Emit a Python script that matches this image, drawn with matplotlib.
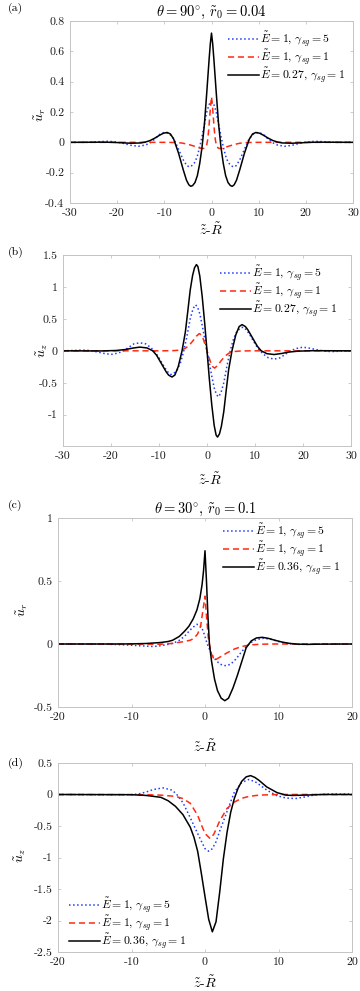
import matplotlib
matplotlib.use('Agg')
import matplotlib.pyplot as plt

plt.rcParams['font.family'] = 'serif'
plt.rcParams['font.serif'] = ['cmr10', 'DejaVu Serif']
plt.rcParams['mathtext.fontset'] = 'cm'
plt.rcParams['axes.unicode_minus'] = False
plt.rcParams['axes.formatter.use_mathtext'] = True

# ---------------- datos panel (a): u_r, theta = 90 ----------------
xa_neg = [-30, -23, -21, -19, -17, -15, -14, -13, -12, -11, -10.2, -9.4, -8.7, -8, -7, -6,
          -5.3, -4.8, -4.4, -4, -3.5, -3, -2.5, -2, -1.5, -1, -0.75, -0.5, -0.25]
xa = xa_neg + [0] + [-v for v in reversed(xa_neg)]

ua_black = [0, 0.001, 0.0, -0.003, -0.006, -0.004, 0.002, 0.012, 0.028, 0.047, 0.06, 0.065, 0.055,
            0.02, -0.07, -0.18, -0.25, -0.28, -0.29, -0.285, -0.265, -0.22, -0.14, -0.03, 0.12, 0.33,
            0.44, 0.55, 0.65,
            0.72,
            0.65, 0.55, 0.44, 0.33, 0.12, -0.03, -0.14, -0.22, -0.265, -0.285, -0.29, -0.28, -0.25,
            -0.18, -0.07, 0.02, 0.055, 0.065, 0.06, 0.047, 0.028, 0.012, 0.002, -0.004, -0.006,
            -0.003, 0.0, 0.001, 0]

xa_b = [-30, -26, -24, -22, -20, -18.5, -17, -15.5, -14, -13, -12, -11, -10, -9, -8, -7, -6,
        -5.2, -4.6, -4, -3.5, -3, -2.5, -2, -1.5, -1, -0.5, 0,
        0.5, 1, 1.5, 2, 2.5, 3, 3.5, 4, 4.6, 5.2, 6, 7, 8, 9, 10, 11, 12, 13, 14, 15.5, 17,
        18.5, 20, 22, 24, 26, 30]
ua_blue = [0, 0.0, 0.004, 0.007, 0.002, -0.008, -0.02, -0.026, -0.018, -0.003, 0.022, 0.052,
           0.066, 0.058, 0.025, -0.045, -0.115, -0.155, -0.162, -0.15, -0.13, -0.09, -0.03,
           0.04, 0.12, 0.2, 0.25, 0.27,
           0.25, 0.2, 0.12, 0.04, -0.03, -0.09, -0.13, -0.15, -0.162, -0.155, -0.115, -0.045,
           0.025, 0.058, 0.066, 0.052, 0.022, -0.003, -0.018, -0.026, -0.02, -0.008, 0.002,
           0.007, 0.004, 0.0, 0]

xa_r = [-30, -10, -8, -7, -6, -5, -4, -3, -2, -1.4, -1.0, -0.8, -0.6, -0.4, -0.2, 0,
        0.2, 0.4, 0.6, 0.8, 1.0, 1.4, 2, 3, 4, 5, 6, 7, 8, 10, 30]
ua_red = [0, 0, -0.001, -0.002, -0.006, -0.013, -0.022, -0.032, -0.042, -0.038, -0.015, 0.02,
          0.08, 0.16, 0.24, 0.30,
          0.24, 0.16, 0.08, 0.02, -0.015, -0.038, -0.042, -0.032, -0.022, -0.013, -0.006,
          -0.002, -0.001, 0, 0]

# ---------------- datos panel (b): u_z, theta = 90 ----------------
xb_k = [-30, -22, -19, -17, -15.5, -14, -12.5, -11.3, -10.5, -9.5, -8.5, -8, -7.3, -6.7, -6,
        -5.2, -4.5, -4, -3.5, -3, -2.6, -2.2, -1.9, -1.5, -1, -0.5, 0,
        0.5, 1, 1.5, 1.9, 2.2, 2.6, 3, 3.5, 4, 4.5, 5.2, 6, 6.7, 7.3, 8, 8.5, 9.5, 10.5, 11.3,
        12.5, 14, 15.5, 17, 19, 22, 30]
ub_black = [0, -0.002, 0.005, 0.02, 0.042, 0.058, 0.045, 0.0, -0.07, -0.2, -0.33, -0.38, -0.41,
            -0.38, -0.25, 0.0, 0.3, 0.62, 0.95, 1.18, 1.3, 1.35, 1.32, 1.17, 0.85, 0.45, 0,
            -0.45, -0.85, -1.17, -1.32, -1.35, -1.3, -1.18, -0.95, -0.62, -0.3, 0.0, 0.25, 0.38,
            0.41, 0.38, 0.33, 0.2, 0.07, 0.0, -0.045, -0.058, -0.042, -0.02, -0.005, 0.002, 0]

xb_b = [-30, -28, -26, -24.5, -23, -21.5, -20, -18.5, -17.2, -16.2, -15.2, -14, -12.8, -11.7,
        -10.8, -10, -9, -8.3, -7.6, -7, -6.2, -5.5, -4.9, -4.2, -3.5, -2.9, -2.4, -2, -1.5,
        -1, -0.5, 0,
        0.5, 1, 1.5, 2, 2.4, 2.9, 3.5, 4.2, 4.9, 5.5, 6.2, 7, 7.6, 8.3, 9, 10, 10.8, 11.7, 12.8,
        14, 15.2, 16.2, 17.2, 18.5, 20, 21.5, 23, 24.5, 26, 28, 30]
ub_blue = [0, 0.005, 0.012, 0.005, -0.015, -0.04, -0.057, -0.035, 0.01, 0.06, 0.11, 0.125,
           0.11, 0.05, -0.02, -0.11, -0.24, -0.32, -0.37, -0.36, -0.3, -0.18, -0.02, 0.22,
           0.5, 0.66, 0.72, 0.69, 0.58, 0.4, 0.2, 0,
           -0.2, -0.4, -0.58, -0.69, -0.72, -0.66, -0.5, -0.22, 0.02, 0.18, 0.3, 0.36, 0.37,
           0.32, 0.24, 0.11, 0.02, -0.05, -0.11, -0.13, -0.11, -0.06, -0.01, 0.035, 0.057,
           0.04, 0.015, -0.005, -0.012, -0.005, 0]

xb_r = [-30, -9, -7, -5.5, -4.6, -3.8, -3, -2.2, -1.6, -1.2, -0.8, -0.4, 0,
        0.4, 0.8, 1.2, 1.6, 2.2, 3, 3.8, 4.6, 5.5, 7, 9, 30]
ub_red = [0, 0, 0.003, 0.012, 0.035, 0.08, 0.15, 0.23, 0.27, 0.25, 0.19, 0.1, 0,
          -0.1, -0.19, -0.25, -0.27, -0.23, -0.15, -0.08, -0.035, -0.012, -0.003, 0, 0]

# ---------------- datos panel (c): u_r, theta = 30 ----------------
xc_k = [-20, -12, -10, -8, -6, -5, -4.4, -3.5, -2.8, -2.2, -1.6, -1.1, -0.7, -0.4, -0.2, 0,
        0.2, 0.4, 0.6, 0.9, 1.3, 1.7, 2.2, 2.7, 3.2, 3.8, 4.4, 5.0, 5.6, 6.3, 7, 7.8, 8.6, 9.5,
        10.5, 11.5, 12.5, 14, 16, 20]
uc_black = [0, 0, 0.001, 0.004, 0.012, 0.02, 0.03, 0.06, 0.1, 0.14, 0.2, 0.27, 0.36, 0.47, 0.58,
            0.74, 0.5, 0.22, 0.0, -0.14, -0.28, -0.37, -0.43, -0.45, -0.43, -0.35, -0.25, -0.14,
            -0.03, 0.025, 0.048, 0.053, 0.045, 0.03, 0.015, 0.005, -0.001, -0.003, -0.001, 0]

xc_b = [-20, -14, -12, -10, -8, -7, -6.2, -5, -4.4, -3.6, -2.8, -2.2, -1.7, -1.1, -0.7, -0.3, 0,
        0.3, 0.6, 1, 1.5, 2, 2.5, 2.9, 3.5, 4.2, 5, 5.6, 6.2, 7, 8, 9, 10, 11, 12.5, 14, 16, 20]
uc_blue = [0, -0.001, -0.004, -0.01, -0.017, -0.02, -0.015, -0.003, 0.005, 0.025, 0.06, 0.1,
           0.13, 0.156, 0.15, 0.11, 0.06, 0.0, -0.04, -0.09, -0.13, -0.158, -0.17, -0.172, -0.16,
           -0.12, -0.06, -0.02, 0.01, 0.035, 0.046, 0.037, 0.02, 0.006, -0.003, -0.002, 0, 0]

xc_r = [-20, -8, -6, -4.4, -3, -2, -1.5, -1, -0.6, -0.3, 0, 0.2, 0.45, 0.8, 1.3, 2, 3, 4, 5, 6,
        7.5, 9, 20]
uc_red = [0, -0.001, -0.002, 0.005, 0.018, 0.03, 0.045, 0.08, 0.14, 0.26, 0.38, 0.22, 0.05,
          -0.07, -0.13, -0.105, -0.07, -0.04, -0.02, -0.008, -0.002, 0, 0]

# ---------------- datos panel (d): u_z, theta = 30 ----------------
xd_k = [-20, -10, -8, -6, -5, -4, -3, -2, -1.5, -1, -0.5, 0, 0.5, 1.0, 1.5, 2, 2.5, 3, 3.5, 4,
        4.5, 5, 5.6, 6.2, 6.8, 7.4, 8.4, 9.8, 11, 12, 14, 16, 20]
ud_black = [0, -0.003, -0.015, -0.045, -0.1, -0.19, -0.32, -0.52, -0.68, -0.9, -1.25, -1.62,
            -1.98, -2.18, -2.02, -1.55, -1.02, -0.6, -0.28, -0.06, 0.1, 0.21, 0.28, 0.3, 0.27,
            0.22, 0.12, 0.03, -0.01, -0.015, -0.008, 0, 0]

xd_b = [-20, -15, -10, -9, -8, -7, -5.7, -4.5, -3.9, -3, -2, -1, 0, 0.5, 1, 1.5, 2, 3, 4, 5, 6,
        7, 8.4, 9.8, 11, 12.3, 13.5, 15, 17, 20]
ud_blue = [0, -0.003, -0.003, 0.01, 0.04, 0.08, 0.105, 0.07, 0.01, -0.13, -0.37, -0.62, -0.86,
           -0.9, -0.86, -0.75, -0.58, -0.27, 0.04, 0.19, 0.24, 0.19, 0.07, -0.02, -0.055,
           -0.065, -0.04, -0.005, 0.008, 0.008]

xd_r = [-20, -8, -6, -4, -3, -2, -1, -0.5, 0, 0.7, 1.2, 2, 3, 4, 5, 6, 7, 8, 10, 20]
ud_red = [0, -0.003, -0.01, -0.03, -0.065, -0.14, -0.33, -0.48, -0.62, -0.7, -0.63, -0.42,
          -0.22, -0.12, -0.06, -0.03, -0.015, -0.007, 0, 0]

# etiquetas
leg_a = [r'$\tilde{E} = 1,\, \gamma_{sg} = 5$', r'$\tilde{E} = 1,\, \gamma_{sg} = 1$',
         r'$\tilde{E} = 0.27,\, \gamma_{sg} = 1$']
leg_c = [r'$\tilde{E} = 1,\, \gamma_{sg} = 5$', r'$\tilde{E} = 1,\, \gamma_{sg} = 1$',
         r'$\tilde{E} = 0.36,\, \gamma_{sg} = 1$']

xt_ab = [-30, -20, -10, 0, 10, 20, 30]
xt_cd = [-20, -10, 0, 10, 20]
yt_a = [-0.4, -0.2, 0, 0.2, 0.4, 0.6, 0.8]
yt_b = [-1, -0.5, 0, 0.5, 1, 1.5]
yt_c = [-0.5, 0, 0.5, 1]
yt_d = [-2.5, -2, -1.5, -1, -0.5, 0, 0.5]

W, H = 360, 991
fig = plt.figure(figsize=(W / 100, H / 100), dpi=100)


def rect(l, r, t, b):
    return [l / W, 1 - b / H, (r - l) / W, (b - t) / H]


gris = '#c4c4c4'
c_blue = '#1f3cff'
c_red = '#ff2a12'


def estilo(ax, xt, yt, xlim, ylim):
    ax.set_xlim(*xlim)
    ax.set_ylim(*ylim)
    ax.set_xticks(xt)
    ax.set_xticklabels(['%g' % v for v in xt])
    ax.set_yticks(yt)
    ax.set_yticklabels(['%g' % v for v in yt])
    for s in ax.spines.values():
        s.set_color(gris)
        s.set_linewidth(0.7)
    ax.tick_params(direction='in', length=2.5, width=0.6, color=gris,
                   top=True, right=True, labelsize=8.5, labelcolor='#1a1a1a', pad=4)


def curvas(ax, xb, yb, xr, yr, xk, yk, labels):
    ax.plot(xb, yb, ':', color=c_blue, lw=1.1, label=labels[0])
    ax.plot(xr, yr, '--', color=c_red, lw=1.1, label=labels[1], dashes=(4, 2.5))
    ax.plot(xk, yk, '-', color='black', lw=1.1, label=labels[2])


def leyenda(ax, x0, y0):
    # x0, y0 en pixeles de la figura (inicio de la linea, arriba de la primera fila)
    ax.legend(loc='upper left', bbox_to_anchor=(x0 / W, 1 - y0 / H),
              bbox_transform=fig.transFigure, frameon=False, fontsize=8.5,
              borderpad=0, borderaxespad=0, handlelength=2.6, handletextpad=0.1,
              labelspacing=-0.12)


def etiquetas(ax, ylab, xl_xy, yl_xy, rect_px):
    l, r, t, b = rect_px
    ax.set_xlabel(r'$\tilde{z}$-$\tilde{R}$', fontsize=10, va='center', ha='center')
    ax.xaxis.set_label_coords((xl_xy[0] - l) / (r - l), (b - xl_xy[1]) / (b - t))
    ax.set_ylabel(ylab, fontsize=10, va='center', ha='center')
    ax.yaxis.set_label_coords((yl_xy[0] - l) / (r - l), (b - yl_xy[1]) / (b - t))


# (a)
ra = (70, 353, 21, 203)
ax = fig.add_axes(rect(*ra))
curvas(ax, xa_b, ua_blue, xa_r, ua_red, xa, ua_black, leg_a)
estilo(ax, xt_ab, yt_a, (-30, 30), (-0.4, 0.8))
ax.set_title(r'$\theta = 90^{\circ},\, \tilde{r}_0 = 0.04$', fontsize=10.5, pad=4)
leyenda(ax, 228, 29)
etiquetas(ax, r'$\tilde{u}_r$', (211, 230), (40, 115), ra)

# (b)
rb = (63, 351, 255, 446)
ax = fig.add_axes(rect(*rb))
curvas(ax, xb_b, ub_blue, xb_r, ub_red, xb_k, ub_black, leg_a)
estilo(ax, xt_ab, yt_b, (-30, 30), (-1.49, 1.5))
leyenda(ax, 220, 263)
etiquetas(ax, r'$\tilde{u}_z$', (210, 480), (42, 350), rb)

# (c)
rc = (58, 352, 518, 707)
ax = fig.add_axes(rect(*rc))
curvas(ax, xc_b, uc_blue, xc_r, uc_red, xc_k, uc_black, leg_c)
estilo(ax, xt_cd, yt_c, (-20, 20), (-0.5, 1))
ax.set_title(r'$\theta = 30^{\circ},\, \tilde{r}_0 = 0.1$', fontsize=10.5, pad=4)
leyenda(ax, 223, 521)
etiquetas(ax, r'$\tilde{u}_r$', (205, 747), (22, 610), rc)

# (d)
rd = (58, 352, 763, 952)
ax = fig.add_axes(rect(*rd))
curvas(ax, xd_b, ud_blue, xd_r, ud_red, xd_k, ud_black, leg_c)
estilo(ax, xt_cd, yt_d, (-20, 20), (-2.5, 0.5))
leyenda(ax, 69, 895)
etiquetas(ax, r'$\tilde{u}_z$', (205, 983), (20, 855), rd)

# letras de los paneles
for lab, yy in [('(a)', 8), ('(b)', 252), ('(c)', 505), ('(d)', 763)]:
    fig.text(8 / W, 1 - yy / H, lab, fontsize=8.5, va='center', ha='left')

fig.savefig('out.png', dpi=100)
